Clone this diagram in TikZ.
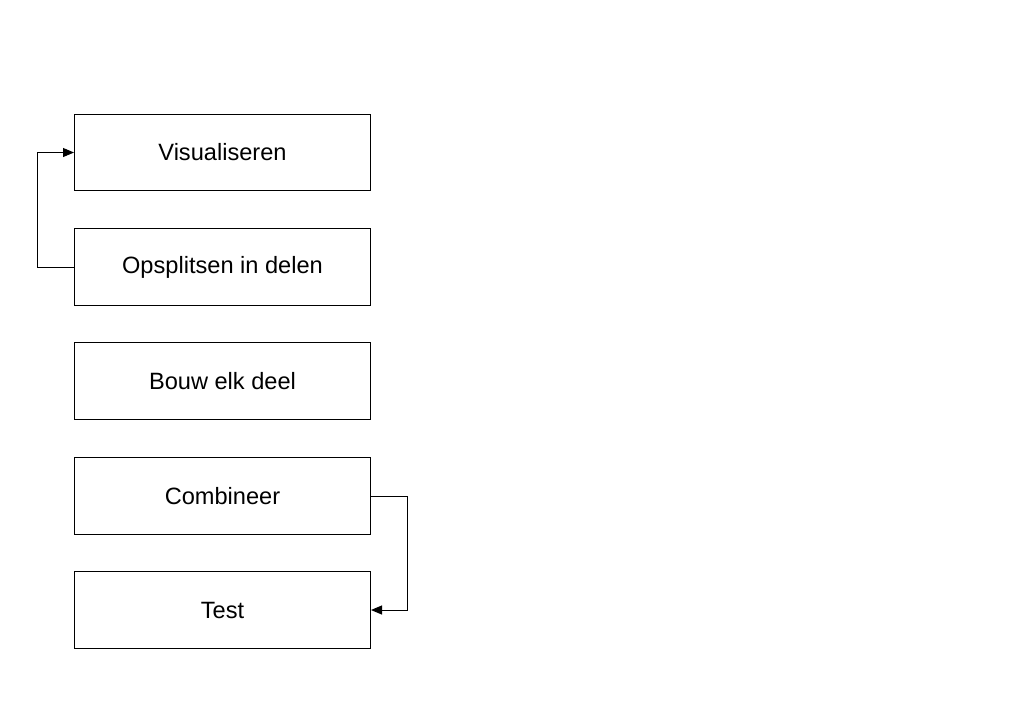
\documentclass[tikz,border=0pt]{standalone}
\usepackage{fontspec}
\setmainfont{Liberation Sans}
\usetikzlibrary{arrows.meta}
\begin{document}
\begin{tikzpicture}[x=1pt,y=-1pt,
  stepbox/.style={draw=black,line width=1pt,minimum width=296pt,minimum height=76.5pt,inner sep=0pt,font=\fontsize{23.6}{28}\selectfont,anchor=center},
  conn/.style={draw=black,line width=1pt,-{Triangle[length=11pt,width=9pt]}}]
\useasboundingbox (0,0) rectangle (1024,724);
\fill[white] (0,0) rectangle (1024,724);
\node[stepbox] (vis) at (222.5,152.5) {Visualiseren};
\node[stepbox] (ops) at (222.5,267) {Opsplitsen in delen};
\node[stepbox] (bouw) at (222.5,381) {Bouw elk deel};
\node[stepbox] (comb) at (222.5,496) {Combineer};
\node[stepbox] (test) at (222.5,610) {Test};
\coordinate (l1) at (37.5,267);
\coordinate (l2) at (37.5,152.5);
\coordinate (r1) at (407.5,496);
\coordinate (r2) at (407.5,610);
\draw[conn] (ops.west) -- (l1) -- (l2) -- (vis.west);
\draw[conn] (comb.east) -- (r1) -- (r2) -- (test.east);
\end{tikzpicture}
\end{document}
